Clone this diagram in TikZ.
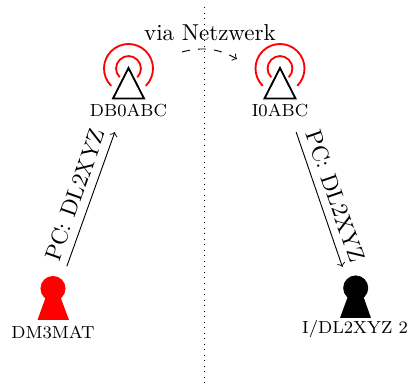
\documentclass[tikz,border=0pt]{standalone}
\newcommand{\rufzeichen}[1]{{\fontsize{7.6}{9}\selectfont #1}}
\begin{document}
\begin{tikzpicture}[x=0.4348pt,y=-0.4348pt,
    funk/.style={red,thick},
    turm/.style={draw,thick,line join=miter},
    kopf/.style={circle,fill,inner sep=0pt,minimum size=10.9pt}]
    \useasboundingbox (0,0) rectangle (409,385);

    \coordinate (oben) at (204.5,7);
    \coordinate (unten) at (204.5,385);
    \draw[dotted] (oben) -- (unten);

    % Relais mit Funkwellen
    \foreach \name/\x in {db0/128.5,i0/280}{
        \coordinate (\name mitte) at (\x,68.5);
        \draw[turm] (\x,68) -- (\x-15.5,98.5) -- (\x+15.5,98.5) -- cycle;
        \foreach \r in {5.4pt,10.65pt}
            \draw[funk] (\name mitte) ++(-45:\r) arc[start angle=-45,end angle=225,radius=\r];
    }
    \node
        (db0) at (128.5,110) {\rufzeichen{DB0ABC}};
    \node
        (i0) at (280,110) {\rufzeichen{I0ABC}};
    \node
        (netz) at (210,33) {via Netzwerk};

    % Stationen
    \node[kopf,red]
        (matkopf) at (53,288.5) {};
    \fill[red] (53,277) -- (37.5,320) -- (69,320) -- cycle;
    \node
        (mat) at (53,332) {\rufzeichen{DM3MAT}};
    \node[kopf,black]
        (xyzkopf) at (355.7,288) {};
    \fill[black] (355.7,275) -- (340,318) -- (371,318) -- cycle;
    \node
        (xyz) at (355,329.5) {\rufzeichen{I/DL2XYZ 2}};

    \coordinate (netzstart) at (182,52);
    \coordinate (netzende) at (237,59);
    \draw[->,dash pattern=on 3.5pt off 3.5pt] (netzstart) to[bend left=22] (netzende);

    \draw[->,shorten <=6pt,shorten >=3.5pt] (matkopf.45) -- node[sloped,above,pos=.51] {PC: DL2XYZ} (db0.-127);
    \draw[->,shorten <=3.5pt,shorten >=5.5pt] (i0.-47) -- node[sloped,above,pos=.5] {PC: DL2XYZ} (xyzkopf.135);
\end{tikzpicture}
\end{document}
